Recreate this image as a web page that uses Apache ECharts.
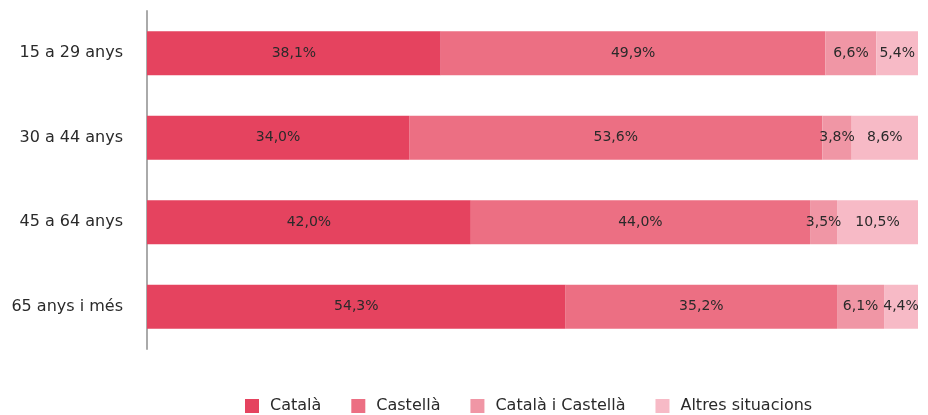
<!DOCTYPE html>
<html>
<head>
    <meta charset="utf-8">
    <title>ECharts</title>
    <script src="https://cdn.jsdelivr.net/npm/echarts@6/dist/echarts.min.js"></script>
</head>
<body style="margin:0">
<div id="main" style="width:928px;height:415px;"></div>
<script type="text/javascript">
// dades
var categories = ['15 a 29 anys', '30 a 44 anys', '45 a 64 anys', '65 anys i més'];
var seriesNames = ['Català', 'Castellà', 'Català i Castellà', 'Altres situacions'];
var catala = [38.1, 34.0, 42.0, 54.3];
var castella = [49.9, 53.6, 44.0, 35.2];
var catalaCastella = [6.6, 3.8, 3.5, 6.1];
var altres = [5.4, 8.6, 10.5, 4.4];

var colors = ['#e5435f', '#ec6f83', '#f096a5', '#f7bac6'];
var font = 'DejaVu Sans';

var myChart = echarts.init(document.getElementById('main'));

function fmt(p) {
    return p.value.toFixed(1).replace('.', ',') + '%';
}

var allData = [catala, castella, catalaCastella, altres];
var series = [];
for (var i = 0; i < seriesNames.length; i++) {
    series.push({
        name: seriesNames[i],
        type: 'bar',
        stack: 'total',
        barWidth: 44,
        data: allData[i],
        itemStyle: { color: colors[i] },
        label: {
            show: true,
            position: 'inside',
            formatter: fmt,
            color: '#2a2a2a',
            fontSize: 14,
            fontFamily: font
        }
    });
}

var option = {
    color: colors,
    animation: false,
    grid: {
        left: 147,
        right: 10,
        top: 11,
        bottom: 66
    },
    legend: {
        data: seriesNames,
        left: 245,
        top: 398,
        padding: 0,
        itemWidth: 14,
        itemHeight: 14,
        itemGap: 30,
        icon: 'rect',
        textStyle: { fontSize: 16, color: '#2a2a2a', fontFamily: font, padding: [0, 0, 0, 6] }
    },
    xAxis: {
        type: 'value',
        min: 0,
        max: 100,
        show: false
    },
    yAxis: {
        type: 'category',
        inverse: true,
        data: categories,
        axisTick: { show: false },
        axisLine: { lineStyle: { color: '#aaa', width: 2 } },
        axisLabel: { fontSize: 16, color: '#2a2a2a', fontFamily: font, margin: 24 }
    },
    series: series
};

myChart.setOption(option);
</script>
</body>
</html>
